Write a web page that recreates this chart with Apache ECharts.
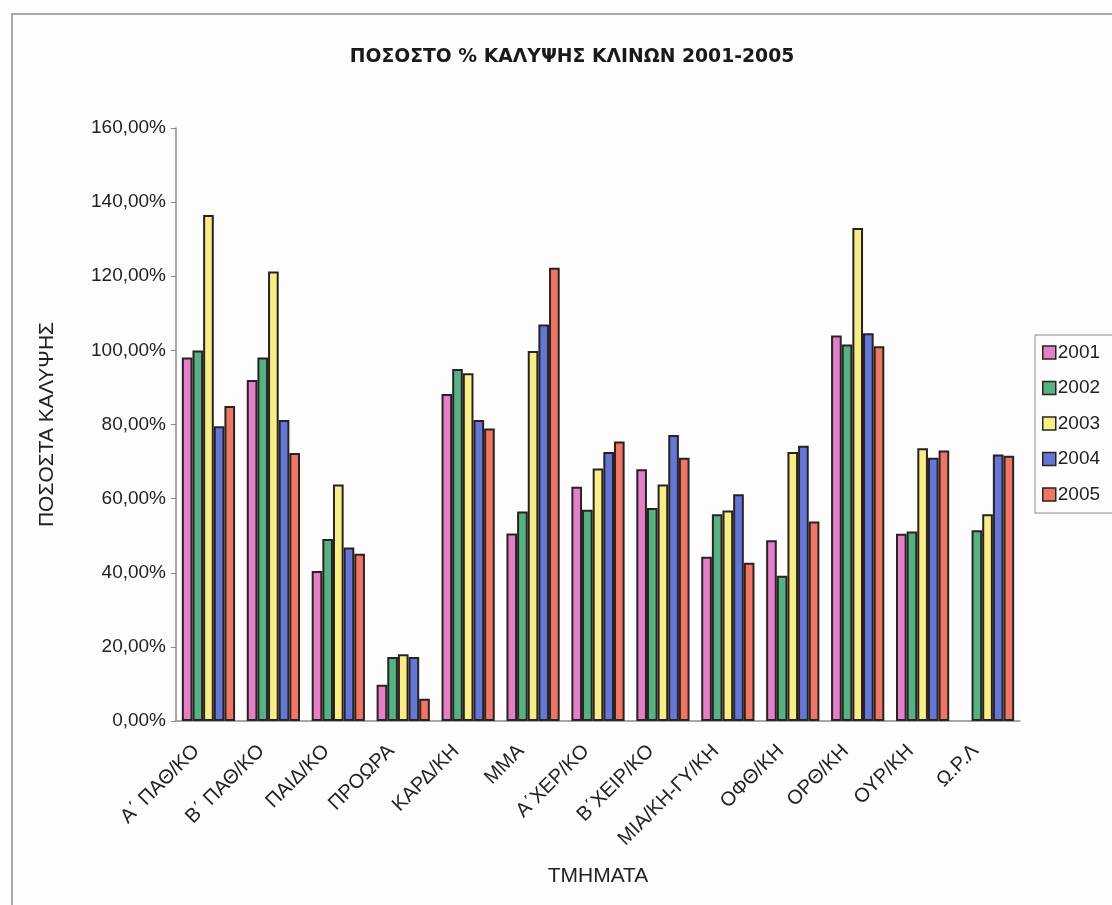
<!DOCTYPE html>
<html>
<head>
<meta charset="utf-8">
<script src="https://cdn.jsdelivr.net/npm/echarts@6/dist/echarts.min.js"></script>
<style>
  html, body { margin: 0; padding: 0; background: #fdfdfd; }
  #chart { width: 1112px; height: 905px; }
</style>
</head>
<body>
<div id="chart"></div>
<script>
// Bed occupancy per hospital department, 2001-2005 (percent)
const departments = ['Α΄ ΠΑΘ/ΚΟ', 'Β΄ ΠΑΘ/ΚΟ', 'ΠΑΙΔ/ΚΟ', 'ΠΡΟΩΡΑ', 'ΚΑΡΔ/ΚΗ', 'ΜΜΑ', 'Α΄ΧΕΡ/ΚΟ',
  'Β΄ΧΕΙΡ/ΚΟ', 'ΜΙΑ/ΚΗ-ΓΥ/ΚΗ', 'ΟΦΘ/ΚΗ', 'ΟΡΘ/ΚΗ', 'ΟΥΡ/ΚΗ', 'Ω.Ρ.Λ'];
const years = ['2001', '2002', '2003', '2004', '2005'];

const y2001 = [98.1, 92.0, 40.5, 9.8, 88.2, 50.6, 63.2, 67.9, 44.3, 48.8, 104.0, 50.5, null];
const y2002 = [100.0, 98.1, 49.1, 17.3, 95.0, 56.5, 57.0, 57.5, 55.8, 39.2, 101.6, 51.1, 51.5];
const y2003 = [136.5, 121.3, 63.8, 18.0, 93.8, 99.8, 68.1, 63.8, 56.8, 72.6, 133.0, 73.6, 55.8];
const y2004 = [79.5, 81.2, 46.8, 17.3, 81.2, 107.0, 72.6, 77.2, 61.2, 74.3, 104.6, 71.0, 71.9];
const y2005 = [85.0, 72.3, 45.1, 6.0, 78.9, 122.3, 75.4, 71.0, 42.7, 53.8, 101.1, 73.0, 71.6];

const yTicks = { min: 0, max: 160, interval: 20 };

const colors = ['#e380c9', '#55b383', '#f7ee85', '#6577d6', '#ef7664'];
const seriesValues = [y2001, y2002, y2003, y2004, y2005];

const FONT = 'Liberation Sans, Arial, sans-serif';
const chart = echarts.init(document.getElementById('chart'), null, { renderer: 'canvas' });

const fmtPct = v => v.toFixed(2).replace('.', ',') + '%';

chart.setOption({
  backgroundColor: '#fdfdfd',
  animation: false,
  color: colors,
  graphic: [{
    type: 'rect',
    shape: { x: 12, y: 14, width: 1140, height: 930 },
    style: { fill: 'none', stroke: '#a8a8a8', lineWidth: 2 },
    silent: true
  }],
  title: {
    text: 'ΠΟΣΟΣΤΟ % ΚΑΛΥΨΗΣ ΚΛΙΝΩΝ 2001-2005',
    left: 567, top: 43, textAlign: 'center',
    textStyle: { fontFamily: 'DejaVu Sans, sans-serif', fontSize: 18.8, fontWeight: 'bold', color: '#1a1a1a' }
  },
  legend: {
    orient: 'vertical',
    left: 1035, top: 335,
    itemWidth: 13, itemHeight: 13, itemGap: 16.5,
    padding: [8, 30, 9, 7],
    borderColor: '#8a8a8a', borderWidth: 1,
    icon: 'rect',
    itemStyle: { borderColor: '#2a2222', borderWidth: 1.5 },
    textStyle: { fontFamily: FONT, fontSize: 19, color: '#222', padding: [0, 0, 0, -3] },
    data: years
  },
  grid: { left: 176, right: 92, top: 128, bottom: 184 },
  xAxis: {
    type: 'category',
    data: departments,
    name: 'ΤΜΗΜΑΤΑ',
    nameLocation: 'middle',
    nameGap: 145,
    nameTextStyle: { fontFamily: FONT, fontSize: 21, color: '#222' },
    axisLine: { lineStyle: { color: '#8a8a8a', width: 1.5 } },
    axisTick: { alignWithLabel: false, length: 5, lineStyle: { color: '#8a8a8a' } },
    axisLabel: {
      rotate: 45, interval: 0, margin: 15,
      padding: [0, 17, 0, 0],
      fontFamily: FONT, fontSize: 20, color: '#222'
    }
  },
  yAxis: {
    type: 'value',
    min: yTicks.min, max: yTicks.max, interval: yTicks.interval,
    name: 'ΠΟΣΟΣΤΑ ΚΑΛΥΨΗΣ',
    nameLocation: 'middle',
    nameGap: 118,
    nameTextStyle: { fontFamily: FONT, fontSize: 21, color: '#222' },
    axisLine: { show: true, lineStyle: { color: '#8a8a8a', width: 1.5 } },
    axisTick: { show: true, length: 5, lineStyle: { color: '#8a8a8a' } },
    splitLine: { show: false },
    axisLabel: {
      margin: 10,
      formatter: fmtPct,
      fontFamily: FONT, fontSize: 19, color: '#222'
    }
  },
  series: years.map((yr, i) => ({
    name: yr,
    type: 'bar',
    data: seriesValues[i],
    barGap: '0%',
    barCategoryGap: '18%',
    itemStyle: { color: colors[i], borderColor: '#2a2222', borderWidth: 2 }
  }))
});
</script>
</body>
</html>
